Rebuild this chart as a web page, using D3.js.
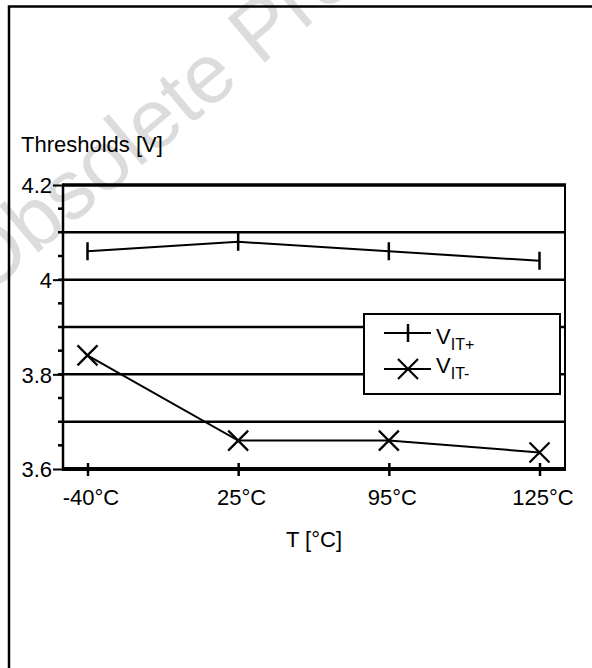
<!DOCTYPE html>
<html>
<head>
<meta charset="utf-8">
<script src="https://cdn.jsdelivr.net/npm/d3@7"></script>
<style>
  html, body { margin: 0; padding: 0; background: #fff; }
  svg { display: block; font-family: "Liberation Sans", Arial, sans-serif; }
</style>
</head>
<body>
<svg id="chart" width="592" height="668"></svg>
<script>
// ---- data ----
const categories = ["-40°C", "25°C", "95°C", "125°C"];
const vitPlus  = [4.06, 4.08, 4.06, 4.04];
const vitMinus = [3.84, 3.66, 3.66, 3.635];
const yLabelTicks = [3.6, 3.8, 4.0, 4.2];
const yGridValues = [3.7, 3.8, 3.9, 4.0, 4.1];
const yMinorTicks = [3.65, 3.75, 3.85, 3.95, 4.05, 4.15];
const yDomain = [3.6, 4.2];
const seriesNames = [["V", "IT+"], ["V", "IT-"]];
const yTitle = "Thresholds [V]";
const xTitle = "T [°C]";
const watermark = "Obsolete Product";

// ---- layout ----
const svg = d3.select("#chart");
const plot = { left: 63, right: 565, top: 185, bottom: 469 };
const y = d3.scaleLinear().domain(yDomain).range([plot.bottom, plot.top]);
const x = d3.scalePoint().domain(categories).range([87.5, 539.5]);

// watermark
svg.append("text")
  .attr("transform", "translate(-16,298) rotate(-40)")
  .attr("font-size", 84)
  .attr("fill", "#dcdcdc")
  .text(watermark);

// outer frame
svg.append("path")
  .attr("d", "M9,668 V6.5 H592")
  .attr("fill", "none").attr("stroke", "#000").attr("stroke-width", 2.5);

// y title
svg.append("text").attr("x", 21).attr("y", 152).attr("font-size", 22).text(yTitle);

// gridlines
svg.append("g").selectAll("line").data(yGridValues).join("line")
  .attr("x1", 58).attr("x2", plot.right)
  .attr("y1", d => y(d)).attr("y2", d => y(d))
  .attr("stroke", "#000").attr("stroke-width", 2.5);

// minor ticks
svg.append("g").selectAll("line").data(yMinorTicks).join("line")
  .attr("x1", 58).attr("x2", plot.left)
  .attr("y1", d => y(d)).attr("y2", d => y(d))
  .attr("stroke", "#000").attr("stroke-width", 2.5);

// left axis with labels
const yAxis = d3.axisLeft(y).tickValues(yLabelTicks).tickFormat(d3.format("~g"))
  .tickSize(10).tickPadding(1);
const gy = svg.append("g").attr("transform", `translate(${plot.left},0)`).call(yAxis);
gy.select(".domain").remove();
gy.selectAll(".tick line").attr("stroke", "#000").attr("stroke-width", 2);
gy.selectAll(".tick text").attr("font-size", 22).attr("fill", "#000")
  .attr("font-family", "Liberation Sans, Arial, sans-serif").attr("dy", "0.36em");

// plot borders
svg.append("line").attr("x1", plot.left).attr("x2", plot.left)
  .attr("y1", plot.top).attr("y2", plot.bottom).attr("stroke", "#000").attr("stroke-width", 2.5);
svg.append("line").attr("x1", plot.right).attr("x2", plot.right)
  .attr("y1", plot.top).attr("y2", plot.bottom).attr("stroke", "#000").attr("stroke-width", 2);
svg.append("line").attr("x1", plot.left - 1).attr("x2", plot.right + 1)
  .attr("y1", plot.top).attr("y2", plot.top).attr("stroke", "#000").attr("stroke-width", 3.5);
svg.append("line").attr("x1", plot.left - 1).attr("x2", plot.right + 1)
  .attr("y1", plot.bottom).attr("y2", plot.bottom).attr("stroke", "#000").attr("stroke-width", 4);

// x axis
const xAxis = d3.axisBottom(x).tickSize(6).tickPadding(22);
const gx = svg.append("g").attr("transform", `translate(0,${plot.bottom})`).call(xAxis);
gx.select(".domain").remove();
gx.selectAll(".tick line").attr("y1", -6).attr("y2", 7).attr("stroke", "#000").attr("stroke-width", 2.5);
gx.selectAll(".tick text").attr("font-size", 22).attr("fill", "#000").attr("dx", 3)
  .attr("font-family", "Liberation Sans, Arial, sans-serif").attr("dy", "0.35em");

svg.append("text").attr("x", (plot.left + plot.right) / 2).attr("y", 547)
  .attr("text-anchor", "middle").attr("font-size", 22).text(xTitle);

// series lines
const line = d3.line().x((d, i) => x(categories[i])).y(d => y(d));
svg.append("path").datum(vitPlus).attr("d", line)
  .attr("fill", "none").attr("stroke", "#000").attr("stroke-width", 2);
svg.append("path").datum(vitMinus).attr("d", line)
  .attr("fill", "none").attr("stroke", "#000").attr("stroke-width", 2);

// markers
function plusMarker(g, cx, cy) {
  g.append("line").attr("x1", cx).attr("x2", cx).attr("y1", cy - 9).attr("y2", cy + 9)
    .attr("stroke", "#000").attr("stroke-width", 2.5);
}
function crossMarker(g, cx, cy) {
  const r = 10;
  g.append("path").attr("d", `M${cx - r},${cy - r}L${cx + r},${cy + r}M${cx - r},${cy + r}L${cx + r},${cy - r}`)
    .attr("stroke", "#000").attr("stroke-width", 2.2).attr("fill", "none");
}
const mg = svg.append("g");
vitPlus.forEach((v, i) => plusMarker(mg, x(categories[i]), y(v)));
vitMinus.forEach((v, i) => crossMarker(mg, x(categories[i]), y(v)));

// legend
const lg = svg.append("g");
lg.append("rect").attr("x", 364).attr("y", 314).attr("width", 196).attr("height", 80)
  .attr("fill", "#fff").attr("stroke", "#000").attr("stroke-width", 2);
const legendRows = [333, 369];
legendRows.forEach((ly, i) => {
  lg.append("line").attr("x1", 384).attr("x2", 431).attr("y1", ly).attr("y2", ly)
    .attr("stroke", "#000").attr("stroke-width", 2);
  if (i === 0) plusMarker(lg, 408, ly); else crossMarker(lg, 408, ly);
  const t = lg.append("text").attr("x", 436).attr("y", i === 0 ? 344 : 373).attr("font-size", 22);
  t.append("tspan").text(seriesNames[i][0]);
  t.append("tspan").attr("font-size", 16).attr("dy", 6).text(seriesNames[i][1]);
});
</script>
</body>
</html>
